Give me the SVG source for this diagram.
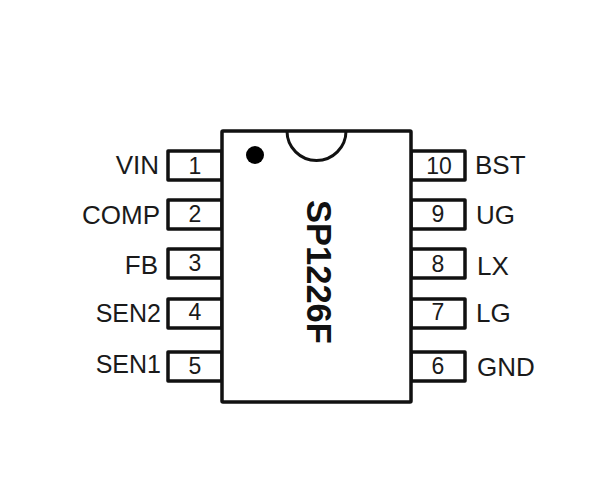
<svg xmlns="http://www.w3.org/2000/svg" width="600" height="500" viewBox="0 0 600 500">
<style>
.b{fill:#fff;stroke:#111;stroke-width:3.5;stroke-linejoin:round}
text{font-family:"Liberation Sans",Arial,sans-serif;fill:#1a1a1a}
.l{font-size:26px}
.s{font-size:25px}
.n{font-size:23px;text-anchor:middle}
.e{text-anchor:end}
</style>
<rect width="600" height="500" fill="#fff"/>
<g id="pin1"><rect class="b" x="168" y="151" width="54" height="29"/><text class="n" x="195" y="174">1</text><text class="l e" x="159" y="174">VIN</text></g>
<g id="pin2"><rect class="b" x="168" y="200" width="54" height="29"/><text class="n" x="195" y="222">2</text><text class="l e" x="160" y="224">COMP</text></g>
<g id="pin3"><rect class="b" x="168" y="249" width="54" height="29"/><text class="n" x="195" y="271">3</text><text class="l e" x="158" y="274">FB</text></g>
<g id="pin4"><rect class="b" x="168" y="299" width="54" height="29"/><text class="n" x="195" y="320">4</text><text class="s e" x="161" y="322">SEN2</text></g>
<g id="pin5"><rect class="b" x="168" y="352" width="54" height="29"/><text class="n" x="195" y="374">5</text><text class="s e" x="161" y="373">SEN1</text></g>
<g id="pin10"><rect class="b" x="411" y="151" width="54" height="29"/><text class="n" x="439" y="174">10</text><text class="l" x="475" y="174">BST</text></g>
<g id="pin9"><rect class="b" x="411" y="200" width="54" height="29"/><text class="n" x="438" y="222">9</text><text class="l" x="476" y="224">UG</text></g>
<g id="pin8"><rect class="b" x="411" y="249" width="54" height="29"/><text class="n" x="438" y="272">8</text><text class="l" x="477" y="275">LX</text></g>
<g id="pin7"><rect class="b" x="411" y="299" width="54" height="29"/><text class="n" x="438" y="320">7</text><text class="l" x="476" y="322">LG</text></g>
<g id="pin6"><rect class="b" x="411" y="352" width="54" height="29"/><text class="n" x="438" y="374">6</text><text class="l" x="477" y="376">GND</text></g>
<g id="chip">
<rect class="b" x="222" y="131" width="189" height="271" rx="1"/>
<path d="M287 131A29.5 29.5 0 0 0 346 131" fill="none" stroke="#111" stroke-width="3"/>
<circle cx="255" cy="155" r="9" fill="#000"/>
<text transform="translate(307 200) rotate(90)" style="font-size:34.5px;font-weight:bold;fill:#111">SP1226F</text>
</g>
</svg>
